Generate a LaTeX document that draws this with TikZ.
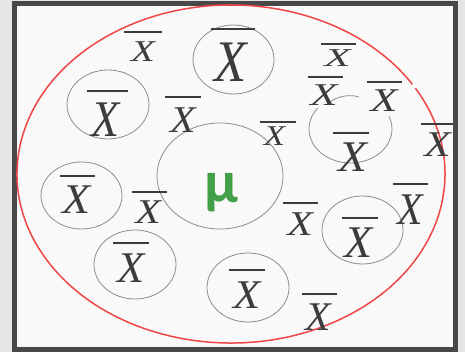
\documentclass[tikz,border=0pt]{standalone}
\usepackage{fontspec}
\usepackage{graphicx}
\setmainfont{Liberation Serif}
\newfontfamily\mufont{Carlito}
\usetikzlibrary{calc}
\definecolor{bggray}{RGB}{230,230,230}
\definecolor{framegray}{RGB}{72,72,72}
\definecolor{panel}{RGB}{249,249,249}
\definecolor{ringgray}{RGB}{140,140,140}
\definecolor{textgray}{RGB}{60,60,60}
\definecolor{redring}{RGB}{240,70,70}
\definecolor{mugreen}{RGB}{66,160,72}
\tikzset{
  ring/.style={draw=ringgray, line width=0.8pt},
  popring/.style={draw=redring, line width=1.5pt},
  xglyph/.style={inner sep=0pt, outer sep=0pt, text=textgray},
  xbar/.style={draw=textgray, line width=1.7pt},
  mulabel/.style={inner sep=0pt, text=mugreen, font=\mufont\bfseries\fontsize{60}{60}\selectfont}
}
\newcommand\xbarlabel[8]{%
  \pgfmathsetmacro\xfs{#4/0.719}%
  \pgfmathsetmacro\xys{#5/(0.662*\xfs)}%
  \node[xglyph, font=\fontsize{\xfs pt}{\xfs pt}\selectfont\itshape] (#1) at (#2,#3) {\scalebox{1}[\xys]{X}};
  \draw[xbar] (#7,#6) -- (#8,#6);
}
\begin{document}
\begin{tikzpicture}[x=1pt,y=-1pt]
\useasboundingbox (0,0) rectangle (465,352);
\fill[bggray] (0,0) rectangle (465,352);
\fill[framegray] (12,1) rectangle (458,352);
\fill[panel] (17,6) rectangle (453,347);
% population
\coordinate (E) at (231,174);
\draw[popring] ($(E)+(32:214pt and 169pt)$) arc[start angle=32, end angle=390.5, x radius=214pt, y radius=169pt];
% sample rings
\coordinate (c1) at (233.5,59.5);
\coordinate (c2) at (108,104.5);
\coordinate (c3) at (350.5,129);
\coordinate (c4) at (220,176);
\coordinate (c5) at (81.5,195.5);
\coordinate (c6) at (135,264.5);
\coordinate (c7) at (248,287.5);
\coordinate (c8) at (362.5,230);
\draw[ring] (c1) ellipse [x radius=40.5pt, y radius=34.5pt];
\draw[ring] (c2) ellipse [x radius=41pt, y radius=34.5pt];
\draw[ring] ($(c3)+(142:41.5pt and 34pt)$) arc[start angle=142, end angle=382, x radius=41.5pt, y radius=34pt];
\draw[ring] (330,102) .. controls (338,96) and (350,94) .. (359,97);
\draw[ring] (c4) ellipse [x radius=63pt, y radius=53pt];
\draw[ring] (c5) ellipse [x radius=40.5pt, y radius=33.5pt];
\draw[ring] (c6) ellipse [x radius=41pt, y radius=34.5pt];
\draw[ring] (c7) ellipse [x radius=41pt, y radius=34.5pt];
\draw[ring] (c8) ellipse [x radius=40.5pt, y radius=34pt];
% mu
\node[mulabel] (mu) at (221,193) {μ};
% sample means inside rings
\xbarlabel{x1}{231}{62.5}{38}{39}{29}{211}{255}
\xbarlabel{x2}{105.5}{120}{33}{34}{91}{87}{128}
\xbarlabel{x3}{353}{157}{34}{29}{133}{333}{369}
\xbarlabel{x5}{76.5}{200}{33}{28}{176}{60}{95}
\xbarlabel{x6}{131}{268.5}{32}{29}{243}{113}{149}
\xbarlabel{x7}{247}{295}{32}{27}{270}{229}{265}
\xbarlabel{x8}{358.5}{243}{33}{30}{218}{342}{378}
% free sample means
\xbarlabel{f1}{143}{52}{28}{20}{32}{124}{162}
\xbarlabel{f2}{183}{120.5}{30}{25}{97}{165}{201}
\xbarlabel{f3}{274.5}{136.5}{25}{19}{122}{260}{296}
\xbarlabel{f4}{324}{95.5}{32}{21}{77}{308}{343}
\xbarlabel{f5}{337.5}{58.5}{31}{17}{44}{321}{356}
\xbarlabel{f6}{384}{101}{32}{22}{82}{367}{402}
\xbarlabel{f7}{437.5}{145}{31}{24}{124}{421}{453}
\xbarlabel{f8}{148}{212.5}{30}{23}{192}{132}{167}
\xbarlabel{f9}{300}{224.5}{30}{23}{203}{283}{318}
\xbarlabel{f10}{410}{210}{30}{30}{184}{393}{428}
\xbarlabel{f11}{318}{317.5}{30}{27}{294}{302}{337}
% thicker bar on top ring
\draw[xbar, line width=2.6pt] (211,29) -- (255,29);
\end{tikzpicture}
\end{document}
